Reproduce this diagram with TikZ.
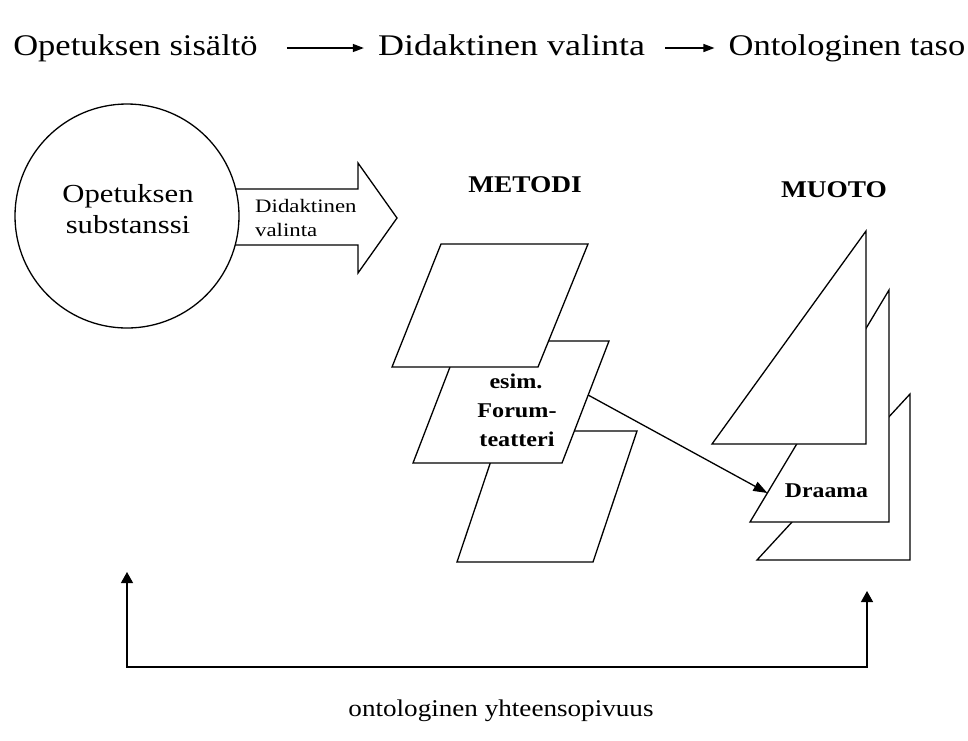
\documentclass[tikz,border=0pt]{standalone}
\usepackage{fontspec}
\setmainfont{Liberation Serif}
\usepackage{graphicx}
\usetikzlibrary{arrows.meta,calc}

% horizontally widened text
\newcommand{\hstretch}[2][1.15]{\scalebox{#1}[1]{#2}}

\tikzset{
  outline/.style={draw=black, line width=1.3pt, fill=white, line join=miter},
  toptxt/.style={inner sep=0pt, anchor=base, font=\fontsize{30}{36}\selectfont,
                 text height=21pt, text depth=7pt},
  circtxt/.style={inner sep=0pt, anchor=base, font=\fontsize{26}{31}\selectfont},
  arrtxt/.style={inner sep=0pt, anchor=base west, font=\fontsize{19}{24}\selectfont},
  headtxt/.style={inner sep=0pt, anchor=base, font=\fontsize{24}{28}\selectfont\bfseries},
  boxtxt/.style={inner sep=0pt, anchor=base, font=\fontsize{21}{26}\selectfont\bfseries},
  bottxt/.style={inner sep=0pt, anchor=base, font=\fontsize{24}{28}\selectfont},
  flow/.style={line width=1.3pt, -{Triangle[length=11pt,width=8pt]}},
  pointer/.style={line width=1.3pt, -{Triangle[length=14pt,width=10pt]}},
  loopback/.style={line width=1.3pt, {Triangle[length=11pt,width=12pt]}-{Triangle[length=11pt,width=12pt]}},
}

\begin{document}
\begin{tikzpicture}[x=1pt,y=-1pt]
  \useasboundingbox (0,0) rectangle (968,740);
  \fill[white] (0,0) rectangle (968,740);

  % --- header line -------------------------------------------------------
  \node[toptxt] (h1) at (135.5,55) {\hstretch{Opetuksen sisältö}};
  \node[toptxt] (h2) at (511.5,55) {\hstretch[1.2]{Didaktinen valinta}};
  \node[toptxt] (h3) at (847,55)   {\hstretch{Ontologinen taso}};
  \draw[flow, shorten <=29pt, shorten >=14pt] (h1.east) -- (h2.west);
  \draw[flow, shorten <=20pt, shorten >=14pt] (h2.east) -- (h3.west);

  % --- block arrow leaving the circle --------------------------------------
  \draw[outline] (225,189) -- (358,189) -- (358,163) -- (397,218)
                 -- (358,273) -- (358,245) -- (225,245) -- cycle;
  \node[arrtxt] (da1) at (255,212) {\hstretch[1.2]{Didaktinen}};
  \node[arrtxt] (da2) at (255,236) {\hstretch[1.2]{valinta}};

  % --- content circle -------------------------------------------------------
  \node[outline, circle, minimum size=224pt, inner sep=0pt] (subst) at (127,216) {};
  \node[circtxt] (s1) at (128,202) {\hstretch[1.18]{Opetuksen}};
  \node[circtxt] (s2) at (128,233) {\hstretch[1.18]{substanssi}};

  % --- method planes ---------------------------------------------------------
  \node[headtxt] (metodi) at (525,192) {\hstretch[1.14]{METODI}};

  \coordinate (p3tl) at (501,431); \coordinate (p3tr) at (637,431);
  \coordinate (p3br) at (593,562); \coordinate (p3bl) at (457,562);
  \coordinate (p2tl) at (460,341); \coordinate (p2tr) at (609,341);
  \coordinate (p2br) at (562,463); \coordinate (p2bl) at (413,463);
  \coordinate (p1tl) at (441,244); \coordinate (p1tr) at (588,244);
  \coordinate (p1br) at (538,367); \coordinate (p1bl) at (392,367);

  \draw[outline] (p3tl) -- (p3tr) -- (p3br) -- (p3bl) -- cycle;
  \draw[outline] (p2tl) -- (p2tr) -- (p2br) -- (p2bl) -- cycle;
  \draw[outline] (p1tl) -- (p1tr) -- (p1br) -- (p1bl) -- cycle;

  \node[boxtxt] (f1) at (516,388) {\hstretch{esim.}};
  \node[boxtxt] (f2) at (517,417) {\hstretch{Forum-}};
  \node[boxtxt] (f3) at (517,446) {\hstretch{teatteri}};

  % --- form triangles --------------------------------------------------------
  \node[headtxt] (muoto) at (834,197) {\hstretch[1.14]{MUOTO}};

  \coordinate (t3a) at (910,394); \coordinate (t3bl) at (757,560); \coordinate (t3br) at (910,560);
  \coordinate (t2a) at (889,290); \coordinate (t2bl) at (750,522); \coordinate (t2br) at (889,522);
  \coordinate (t1a) at (866,231); \coordinate (t1bl) at (712,444); \coordinate (t1br) at (866,444);

  \draw[outline] (t3a) -- (t3br) -- (t3bl) -- cycle;
  \draw[outline] (t2a) -- (t2br) -- (t2bl) -- cycle;
  \draw[outline] (t1a) -- (t1br) -- (t1bl) -- cycle;

  \node[boxtxt] (draama) at (826.5,497) {\hstretch[1.13]{Draama}};

  % --- method to form ---------------------------------------------------------
  \coordinate (fsrc) at ($(p2tr)!0.443!(p2br)$);
  \coordinate (fdst) at ($(t2a)!0.875!(t2bl)$);
  \draw[pointer] (fsrc) -- (fdst);

  % --- ontological fit loop ---------------------------------------------------
  \coordinate (ltip) at (127,572);
  \coordinate (rtip) at (867,591);
  \coordinate (base) at (497,667);
  \draw[loopback] (ltip) |- (base) -| (rtip);
  \node[bottxt] (fit) at (501,716) {\hstretch[1.13]{ontologinen yhteensopivuus}};
\end{tikzpicture}
\end{document}
